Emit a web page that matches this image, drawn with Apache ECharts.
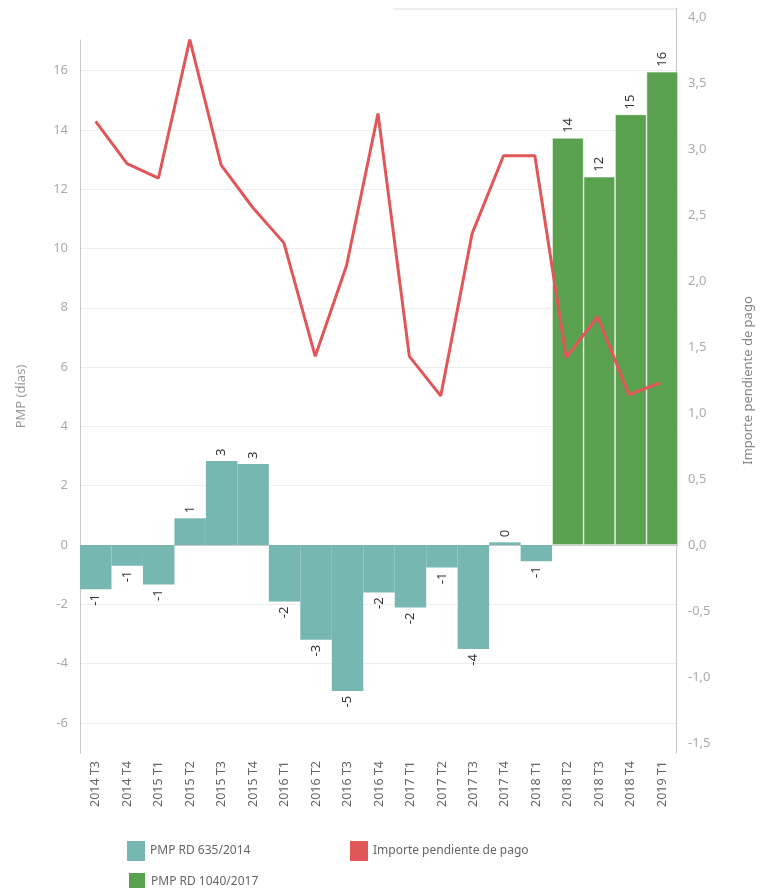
<!DOCTYPE html>
<html>
<head>
<meta charset="utf-8">
<script src="https://cdn.jsdelivr.net/npm/echarts@6/dist/echarts.min.js"></script>
<style>html,body{margin:0;padding:0;background:#fff}#c{width:763px;height:888px}</style>
</head>
<body>
<div id="c"></div>
<script>
var categories = ['2014 T3','2014 T4','2015 T1','2015 T2','2015 T3','2015 T4','2016 T1','2016 T2','2016 T3','2016 T4','2017 T1','2017 T2','2017 T3','2017 T4','2018 T1','2018 T2','2018 T3','2018 T4','2019 T1'];
var pmp635 = [-1.49,-0.70,-1.33,0.90,2.83,2.73,-1.91,-3.20,-4.92,-1.60,-2.11,-0.76,-3.51,0.09,-0.55,null,null,null,null];
var pmp1040 = [null,null,null,null,null,null,null,null,null,null,null,null,null,null,null,13.73,12.42,14.52,15.96];
var importe = [3.21,2.89,2.78,3.83,2.88,2.56,2.29,1.43,2.12,3.27,1.43,1.13,2.36,2.95,2.95,1.42,1.73,1.14,1.23];
var legendNames = ['PMP RD 635/2014','PMP RD 1040/2017','Importe pendiente de pago'];

var FONT = 'Noto Sans';
function barData(arr){
  return arr.map(function(v){
    if (v === null) return '-';
    return {value: v, label: v < 0 ? {position:'bottom', align:'right'} : {position:'top', align:'left'}};
  });
}
var barLabel = {
  show: true, rotate: 90, verticalAlign: 'middle', distance: 5,
  color: '#333', fontSize: 13, fontFamily: FONT,
  formatter: function(p){ return String(Math.round(p.value)); }
};
function legendAt(name, left, top){
  return {data:[name], left:left, top:top, icon:'rect', itemWidth:18, itemHeight:20,
    textStyle:{color:'#666', fontSize:12, fontFamily:FONT}};
}

var chart = echarts.init(document.getElementById('c'), null, {renderer:'canvas'});
chart.setOption({
  animation: false,
  textStyle: {fontFamily: FONT},
  grid: [
    {left: 80, right: 85, top: 40, bottom: 135, containLabel: false},
    {left: 80, right: 85, top: 8, bottom: 135, containLabel: false}
  ],
  xAxis: [
    {type:'category', gridIndex:0, data: categories,
     axisLine:{lineStyle:{color:'#c8c8c8'}}, axisTick:{show:false},
     axisLabel:{rotate:90, interval:0, color:'#666', fontSize:12.5, margin:8, fontFamily:FONT}},
    {type:'category', gridIndex:1, data: categories, show:false}
  ],
  yAxis: [
    {type:'value', gridIndex:0, min:-7.015, max:17.03, splitNumber:12,
     name:'PMP (días)', nameLocation:'middle', nameGap:52,
     nameTextStyle:{color:'#999', fontSize:13, fontFamily:FONT},
     axisLine:{show:true, lineStyle:{color:'#c8c8c8'}}, axisTick:{show:false},
     axisLabel:{color:'#aaa', fontSize:13, margin:12, showMinLabel:false, showMaxLabel:false, fontFamily:FONT},
     splitLine:{show:true, showMinLine:false, showMaxLine:false, lineStyle:{color:'#eeeeee'}}},
    {type:'value', gridIndex:1, position:'right', min:-1.576, max:4.07, splitNumber:11,
     name:'Importe pendiente de pago', nameLocation:'middle', nameGap:66, nameRotate:90,
     nameTextStyle:{color:'#888', fontSize:13, fontFamily:FONT},
     axisLine:{show:true, lineStyle:{color:'#c8c8c8'}}, axisTick:{show:false},
     axisLabel:{color:'#aaa', fontSize:13, margin:12, showMinLabel:false, showMaxLabel:false, fontFamily:FONT,
       formatter:function(v){ return v.toFixed(1).replace('.', ','); }},
     splitLine:{show:false}}
  ],
  legend: [
    legendAt(legendNames[0], 122, 836),
    legendAt(legendNames[1], 122, 866),
    legendAt(legendNames[2], 345, 836)
  ],
  graphic: [
    {type:'line', shape:{x1:393, y1:9, x2:678, y2:9}, style:{stroke:'#dddddd', lineWidth:1}, silent:true}
  ],
  series: [
    {name:legendNames[0], type:'bar', xAxisIndex:0, yAxisIndex:0, stack:'pmp',
     barCategoryGap:'0%', itemStyle:{color:'#76b7b2'}, label: barLabel, data: barData(pmp635)},
    {name:legendNames[1], type:'bar', xAxisIndex:0, yAxisIndex:0, stack:'pmp',
     barCategoryGap:'0%', itemStyle:{color:'#59a14f', borderColor:'#ffffff', borderWidth:0.6}, label: barLabel, data: barData(pmp1040)},
    {name:legendNames[2], type:'line', xAxisIndex:1, yAxisIndex:1,
     showSymbol:false, symbol:'none', itemStyle:{color:'#e15759'},
     lineStyle:{color:'#e15759', width:3}, data: importe}
  ]
});
</script>
</body>
</html>
